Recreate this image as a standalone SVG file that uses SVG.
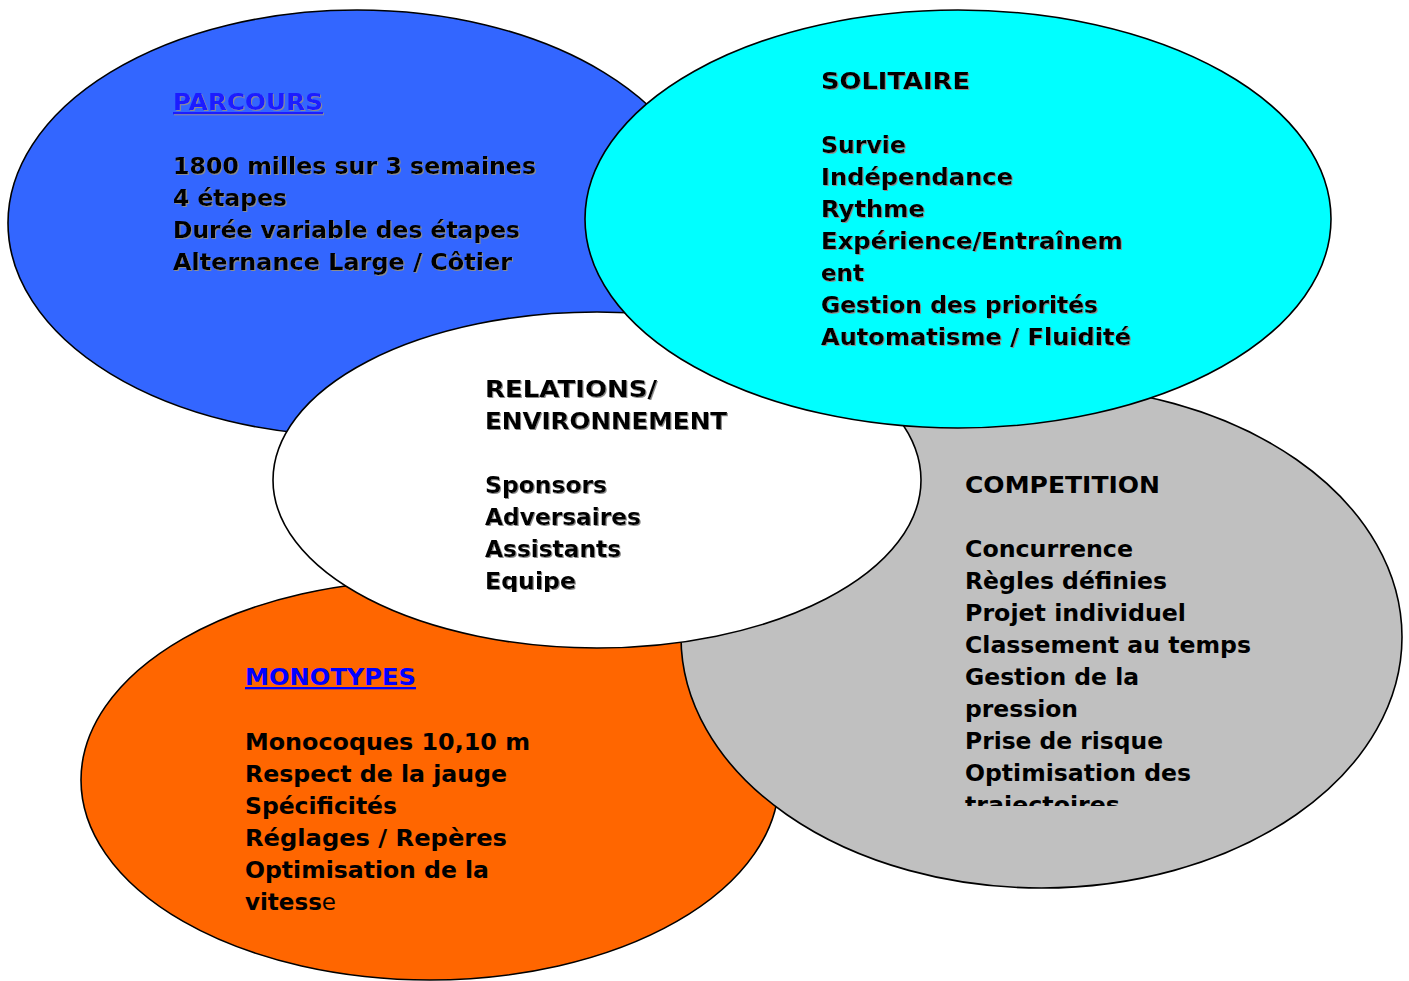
<svg xmlns="http://www.w3.org/2000/svg" width="1409" height="981" viewBox="0 0 1409 981">
<defs>
<style>
.ell{stroke:#000;stroke-width:1.6}
.t{font-family:"DejaVu Sans","Verdana",sans-serif;font-weight:bold;font-size:23px;fill:#000}
.ttl{fill:#1a1aff;text-decoration:underline}
</style>
<filter id="sh" x="-5%" y="-5%" width="110%" height="110%">
<feOffset in="SourceAlpha" dx="1.3" dy="1.3" result="o"/>
<feFlood flood-color="#8c8c8c"/>
<feComposite in2="o" operator="in" result="s"/>
<feMerge><feMergeNode in="s"/><feMergeNode in="SourceGraphic"/></feMerge>
</filter>
<clipPath id="cw"><rect x="400" y="350" width="400" height="242"/></clipPath>
<clipPath id="cg"><rect x="900" y="450" width="400" height="356"/></clipPath>
</defs>
<rect width="1409" height="981" fill="#fff"/>
<g id="connectors"/>
<g id="parcours">
<ellipse class="ell" cx="357" cy="223" rx="349" ry="213" fill="#3366ff"/>
<g filter="url(#sh)">
<text class="t ttl" x="173" y="110" textLength="150" lengthAdjust="spacingAndGlyphs">PARCOURS</text>
<text class="t" x="173" y="174" textLength="363" lengthAdjust="spacingAndGlyphs">1800 milles sur 3 semaines</text>
<text class="t" x="173" y="206" textLength="114" lengthAdjust="spacingAndGlyphs">4 étapes</text>
<text class="t" x="173" y="238" textLength="347" lengthAdjust="spacingAndGlyphs">Durée variable des étapes</text>
<text class="t" x="173" y="270" textLength="339" lengthAdjust="spacingAndGlyphs">Alternance Large / Côtier</text>
</g>
</g>
<g id="monotypes">
<ellipse class="ell" cx="430" cy="780" rx="349" ry="200" fill="#ff6600"/>
<text class="t ttl" x="245" y="685" textLength="171" lengthAdjust="spacingAndGlyphs" style="fill:#0000ff">MONOTYPES</text>
<text class="t" x="245" y="750" textLength="285" lengthAdjust="spacingAndGlyphs">Monocoques 10,10 m</text>
<text class="t" x="245" y="782" textLength="262" lengthAdjust="spacingAndGlyphs">Respect de la jauge</text>
<text class="t" x="245" y="814" textLength="152" lengthAdjust="spacingAndGlyphs">Spécificités</text>
<text class="t" x="245" y="846" textLength="262" lengthAdjust="spacingAndGlyphs">Réglages / Repères</text>
<text class="t" x="245" y="878" textLength="244" lengthAdjust="spacingAndGlyphs">Optimisation de la</text>
<text class="t" x="245" y="910" textLength="91" lengthAdjust="spacingAndGlyphs">vitess<tspan font-weight="normal">e</tspan></text>
</g>
<g id="competition">
<ellipse class="ell" cx="1041.5" cy="637" rx="360.5" ry="251" fill="#c0c0c0"/>
<g clip-path="url(#cg)">
<text class="t" x="965" y="493" textLength="195" lengthAdjust="spacingAndGlyphs">COMPETITION</text>
<text class="t" x="965" y="557" textLength="168" lengthAdjust="spacingAndGlyphs">Concurrence</text>
<text class="t" x="965" y="589" textLength="202" lengthAdjust="spacingAndGlyphs">Règles définies</text>
<text class="t" x="965" y="621" textLength="221" lengthAdjust="spacingAndGlyphs">Projet individuel</text>
<text class="t" x="965" y="653" textLength="286" lengthAdjust="spacingAndGlyphs">Classement au temps</text>
<text class="t" x="965" y="685" textLength="174" lengthAdjust="spacingAndGlyphs">Gestion de la</text>
<text class="t" x="965" y="717" textLength="113" lengthAdjust="spacingAndGlyphs">pression</text>
<text class="t" x="965" y="749" textLength="198" lengthAdjust="spacingAndGlyphs">Prise de risque</text>
<text class="t" x="965" y="781" textLength="226" lengthAdjust="spacingAndGlyphs">Optimisation des</text>
<text class="t" x="965" y="813" textLength="155" lengthAdjust="spacingAndGlyphs">trajectoires</text>
</g>
</g>
<g id="relations">
<ellipse class="ell" cx="597" cy="480" rx="324" ry="168" fill="#ffffff"/>
<g clip-path="url(#cw)">
<g filter="url(#sh)">
<text class="t" x="485" y="397" textLength="172" lengthAdjust="spacingAndGlyphs">RELATIONS/</text>
<text class="t" x="485" y="429" textLength="242" lengthAdjust="spacingAndGlyphs">ENVIRONNEMENT</text>
<text class="t" x="485" y="493" textLength="122" lengthAdjust="spacingAndGlyphs">Sponsors</text>
<text class="t" x="485" y="525" textLength="156" lengthAdjust="spacingAndGlyphs">Adversaires</text>
<text class="t" x="485" y="557" textLength="136" lengthAdjust="spacingAndGlyphs">Assistants</text>
<text class="t" x="485" y="589" textLength="91" lengthAdjust="spacingAndGlyphs">Equipe</text>
</g>
</g>
</g>
<g id="solitaire">
<ellipse class="ell" cx="958" cy="219" rx="373" ry="209" fill="#00ffff"/>
<g filter="url(#sh)">
<text class="t" x="821" y="89" textLength="149" lengthAdjust="spacingAndGlyphs">SOLITAIRE</text>
<text class="t" x="821" y="153" textLength="85" lengthAdjust="spacingAndGlyphs">Survie</text>
<text class="t" x="821" y="185" textLength="192" lengthAdjust="spacingAndGlyphs">Indépendance</text>
<text class="t" x="821" y="217" textLength="104" lengthAdjust="spacingAndGlyphs">Rythme</text>
<text class="t" x="821" y="249" textLength="302" lengthAdjust="spacingAndGlyphs">Expérience/Entraînem</text>
<text class="t" x="821" y="281" textLength="43" lengthAdjust="spacingAndGlyphs">ent</text>
<text class="t" x="821" y="313" textLength="277" lengthAdjust="spacingAndGlyphs">Gestion des priorités</text>
<text class="t" x="821" y="345" textLength="310" lengthAdjust="spacingAndGlyphs">Automatisme / Fluidité</text>
</g>
</g>
</svg>
